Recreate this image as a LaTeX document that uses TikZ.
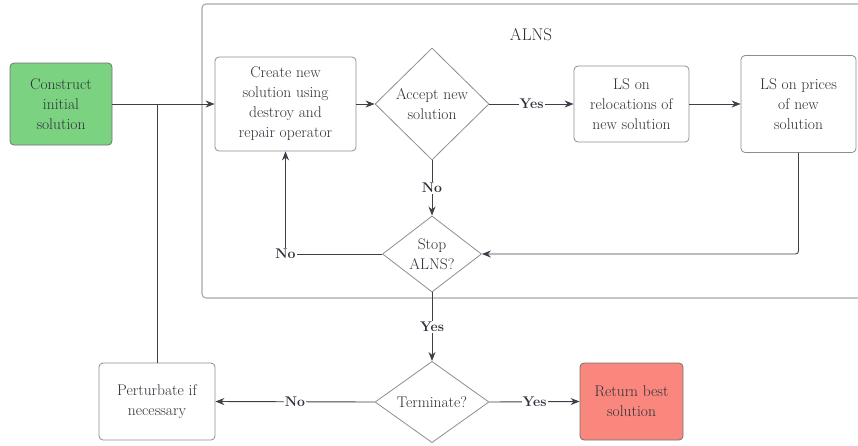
\documentclass[tikz,border=0pt]{standalone}
\usetikzlibrary{shapes.geometric,arrows.meta}
\definecolor{txt}{HTML}{2E3139}
\definecolor{lineC}{HTML}{3C4049}
\definecolor{boxC}{HTML}{8E8E8E}
\definecolor{frameC}{HTML}{A8A8A8}
\definecolor{greenF}{HTML}{7BD381}
\definecolor{redF}{HTML}{F9877E}
\tikzset{
  box/.style={draw=boxC, line width=0.8pt, rounded corners=4pt, fill=white, align=center,
     font=\fontsize{15.5}{20}\selectfont, text=txt, inner sep=0pt},
  dia/.style={draw=boxC, line width=0.8pt, diamond, inner sep=0pt, fill=white, align=center,
     font=\fontsize{15.5}{20}\selectfont, text=txt},
  conn/.style={draw=lineC, line width=0.9pt, -{Stealth[length=9pt,width=7pt]}},
  plain/.style={draw=lineC, line width=0.9pt},
  lbl/.style={font=\fontsize{14}{16}\selectfont\bfseries, text=txt, fill=white, inner sep=1pt}
}
\begin{document}
\begin{tikzpicture}[x=1pt,y=-1pt]
\useasboundingbox (0,0) rectangle (858,445);
% ALNS container
\draw[frameC, line width=1.1pt, rounded corners=4pt] (880,4) -- (202,4) -- (202,298) -- (880,298);
\node[font=\fontsize{17}{20}\selectfont, text=txt] (alns) at (531,35) {ALNS};
% nodes
\node[box, fill=greenF, draw=boxC!80!black, minimum width=102pt, minimum height=82pt] (construct) at (61,104) {Construct\\initial\\solution};
\node[box, minimum width=141pt, minimum height=94pt] (create) at (285.5,104) {Create new\\solution using\\destroy and\\repair operator};
\node[dia, minimum width=114pt, minimum height=112pt] (accept) at (432,104) {Accept new\\solution};
\node[box, minimum width=115pt, minimum height=76pt] (reloc) at (631.5,104) {LS on\\relocations of\\new solution};
\node[box, minimum width=115pt, minimum height=97pt] (prices) at (798.5,104) {LS on prices\\of new\\solution};
\node[dia, minimum width=99pt, minimum height=76pt] (stop) at (432,254) {Stop\\ALNS?};
\node[dia, minimum width=114pt, minimum height=77pt] (term) at (432,402) {Terminate?};
\node[box, minimum width=116pt, minimum height=77pt] (perturb) at (157,401.5) {Perturbate if\\necessary};
\node[box, fill=redF, draw=boxC!80!black, minimum width=103pt, minimum height=77pt] (ret) at (631.5,401.5) {Return best\\solution};
% connectors
\draw[conn] (construct.east) -- (create.west);
\coordinate (join) at (perturb.north |- construct.east);
\draw[plain] (perturb.north) -- (join);
\draw[conn] (create.east) -- (accept.west);
\draw[conn] (accept.east) -- node[lbl]{Yes} (reloc.west);
\draw[conn] (reloc.east) -- (prices.west);
\draw[conn, rounded corners=3pt] (prices.south) |- (stop.east);
\draw[conn] (accept.south) -- node[lbl]{No} (stop.north);
\draw[conn] (stop.west) -| (create.south);
\node[lbl] (nolbl) at (create.south |- stop.west) {No};
\draw[conn] (stop.south) -- node[lbl]{Yes} (term.north);
\draw[conn] (term.west) -- node[lbl]{No} (perturb.east);
\draw[conn] (term.east) -- node[lbl]{Yes} (ret.west);
\end{tikzpicture}
\end{document}
